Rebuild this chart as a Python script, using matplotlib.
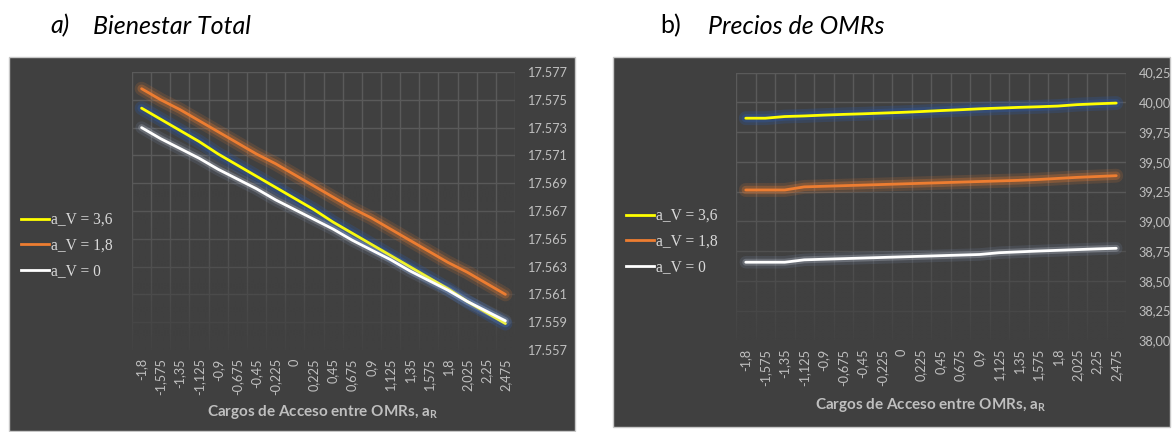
import matplotlib
matplotlib.use("Agg")
import matplotlib.pyplot as plt
import matplotlib.patheffects as pe
from matplotlib.patches import Rectangle
from matplotlib.lines import Line2D
import numpy as np

# ---------------------------------------------------------------- data
access_charges = ["-1,8", "-1,575", "-1,35", "-1,125", "-0,9", "-0,675", "-0,45",
                  "-0,225", "0", "0,225", "0,45", "0,675", "0,9", "1,125", "1,35",
                  "1,575", "1,8", "2,025", "2,25", "2,475"]

series_labels = ["a_V = 3,6", "a_V = 1,8", "a_V = 0"]

# Total welfare
welfare_av36 = [17574.4, 17573.6, 17572.8, 17572.0, 17571.1, 17570.3, 17569.5,
                17568.7, 17567.9, 17567.1, 17566.2, 17565.4, 17564.6, 17563.8,
                17563.0, 17562.2, 17561.4, 17560.5, 17559.7, 17558.9]
welfare_av18 = [17575.8, 17575.0, 17574.3, 17573.5, 17572.7, 17571.9, 17571.1,
                17570.4, 17569.6, 17568.8, 17568.0, 17567.2, 17566.5, 17565.7,
                17564.9, 17564.1, 17563.3, 17562.6, 17561.8, 17561.0]
welfare_av0 = [17573.0, 17572.2, 17571.5, 17570.8, 17570.0, 17569.3, 17568.6,
               17567.8, 17567.1, 17566.4, 17565.7, 17564.9, 17564.2, 17563.5,
               17562.7, 17562.0, 17561.3, 17560.5, 17559.8, 17559.1]

# OMR prices
price_av36 = [39.866, 39.866, 39.880, 39.885, 39.892, 39.898, 39.903, 39.909,
              39.915, 39.922, 39.930, 39.937, 39.945, 39.951, 39.957, 39.962,
              39.968, 39.980, 39.987, 39.993]
price_av18 = [39.263, 39.263, 39.263, 39.289, 39.294, 39.299, 39.304, 39.309,
              39.314, 39.319, 39.324, 39.329, 39.334, 39.339, 39.344, 39.351,
              39.360, 39.369, 39.376, 39.383]
price_av0 = [38.656, 38.656, 38.656, 38.676, 38.681, 38.686, 38.691, 38.696,
             38.701, 38.706, 38.711, 38.716, 38.721, 38.736, 38.743, 38.750,
             38.756, 38.762, 38.768, 38.773]

welfare_ticks = [17557, 17559, 17561, 17563, 17565, 17567, 17569, 17571, 17573, 17575, 17577]
price_ticks = [38.00, 38.25, 38.50, 38.75, 39.00, 39.25, 39.50, 39.75, 40.00, 40.25]

# ---------------------------------------------------------------- style
W, H = 1172, 432
BG = "#404040"
GRID = "#5a5a5a"
TICK_COLOR = "#bfbfbf"
LEGEND_COLOR = "#d9d9d9"
COLORS = ["#ffff00", "#ed7d31", "#ffffff"]
GLOWS = [[("#2f5597", 10, 0.30), ("#2f5597", 6, 0.45)],
         [("#ed7d31", 10, 0.15), ("#ed7d31", 6, 0.28)],
         [("#8faadc", 9, 0.12), ("#dfe6f2", 5, 0.22)]]
SANS = ["Lato", "DejaVu Sans"]
SERIF = ["Liberation Serif", "DejaVu Serif"]

plt.rcParams["font.family"] = SANS
plt.rcParams["mathtext.fontset"] = "custom"
plt.rcParams["mathtext.rm"] = "Lato"
plt.rcParams["mathtext.bf"] = "Lato:bold"

fig = plt.figure(figsize=(W / 100, H / 100), dpi=100)
fig.patch.set_facecolor("white")


def px_rect(x0, y0, x1, y1):
    """Figure-fraction rectangle from pixel corners (origin top-left)."""
    return [x0 / W, 1 - y1 / H, (x1 - x0) / W, (y1 - y0) / H]


def draw_panel(frame, axes_box, series, ticks, fmt, legend_at, xlabel_at):
    fx = px_rect(*frame)
    fig.patches.append(Rectangle((fx[0], fx[1]), fx[2], fx[3], transform=fig.transFigure,
                                 facecolor=BG, edgecolor="#c8c8c8", linewidth=1.0,
                                 zorder=-5))
    ax = fig.add_axes(px_rect(*axes_box))
    ax.set_facecolor("none")
    n = len(access_charges)
    x = np.arange(n)
    ax.set_xlim(-0.5, n - 0.5)
    ax.set_ylim(ticks[0], ticks[-1])

    # category-boundary and value gridlines
    for xb in np.arange(-0.5, n, 1.0):
        ax.axvline(xb, color=GRID, lw=1.0, zorder=1)
    for yv in ticks:
        ax.axhline(yv, color=GRID, lw=1.0, zorder=1)

    # grid fades out toward the bottom of the plot area
    ramp = np.clip((0.62 - np.linspace(1, 0, 200)) / 0.62, 0, 1) ** 1.2 * 0.9
    shade = np.zeros((200, 1, 4))
    shade[..., :3] = matplotlib.colors.to_rgb(BG)
    shade[:, 0, 3] = ramp
    ax.imshow(shade, extent=(0, 1, 0, 1), transform=ax.transAxes, aspect="auto",
              zorder=1.5, interpolation="bilinear")

    for values, color, glow in zip(series, COLORS, GLOWS):
        effects = [pe.Stroke(linewidth=w, foreground=c, alpha=a) for c, w, a in glow]
        effects.append(pe.Normal())
        ax.plot(x, values, color=color, lw=2.0, solid_capstyle="round", zorder=3,
                path_effects=effects)

    for s in ax.spines.values():
        s.set_visible(False)
    ax.set_xticks(x)
    ax.set_xticklabels(access_charges, rotation=90, fontsize=9.2, color=TICK_COLOR)
    ax.tick_params(axis="x", length=0, pad=6)
    ax.yaxis.tick_right()
    ax.set_yticks(ticks)
    ax.set_yticklabels([fmt(t) for t in ticks], fontsize=9.2, color=TICK_COLOR)
    ax.tick_params(axis="y", length=0, pad=9)

    handles = [Line2D([], [], color=c, lw=2.0) for c in COLORS]
    lx, ly = legend_at
    ax.legend(handles, series_labels, loc="upper left",
              bbox_to_anchor=(lx / W, 1 - ly / H), bbox_transform=fig.transFigure,
              frameon=False, borderpad=0, borderaxespad=0, handlelength=1.8,
              handletextpad=0.1, labelspacing=0.62,
              prop={"family": SERIF, "size": 11.2}, labelcolor=LEGEND_COLOR)

    tx, ty = xlabel_at
    fig.text(tx / W, 1 - ty / H, r"Cargos de Acceso entre OMRs, a$_{\mathbf{R}}$",
             ha="center", va="center", fontsize=11, fontweight="bold",
             color=TICK_COLOR)
    return ax


draw_panel((9, 57, 575, 431), (132, 72, 515, 350),
           [welfare_av36, welfare_av18, welfare_av0], welfare_ticks,
           lambda v: f"{v:,}".replace(",", "."), (21, 212), (323, 412))
draw_panel((613, 57, 1170, 427), (736, 72.5, 1126, 340.3),
           [price_av36, price_av18, price_av0], price_ticks,
           lambda v: f"{v:.2f}".replace(".", ","), (626, 208), (931, 405))

# panel headings
HEAD = 18
fig.text(50 / W, 1 - 26 / H, "a)", fontsize=HEAD, style="italic", va="center")
fig.text(93 / W, 1 - 26 / H, "Bienestar Total", fontsize=HEAD, style="italic", va="center")
fig.text(660 / W, 1 - 26 / H, "b)", fontsize=HEAD, va="center")
fig.text(708 / W, 1 - 26 / H, "Precios de OMRs", fontsize=HEAD, style="italic", va="center")

fig.savefig("out.png", dpi=100, facecolor="white")
